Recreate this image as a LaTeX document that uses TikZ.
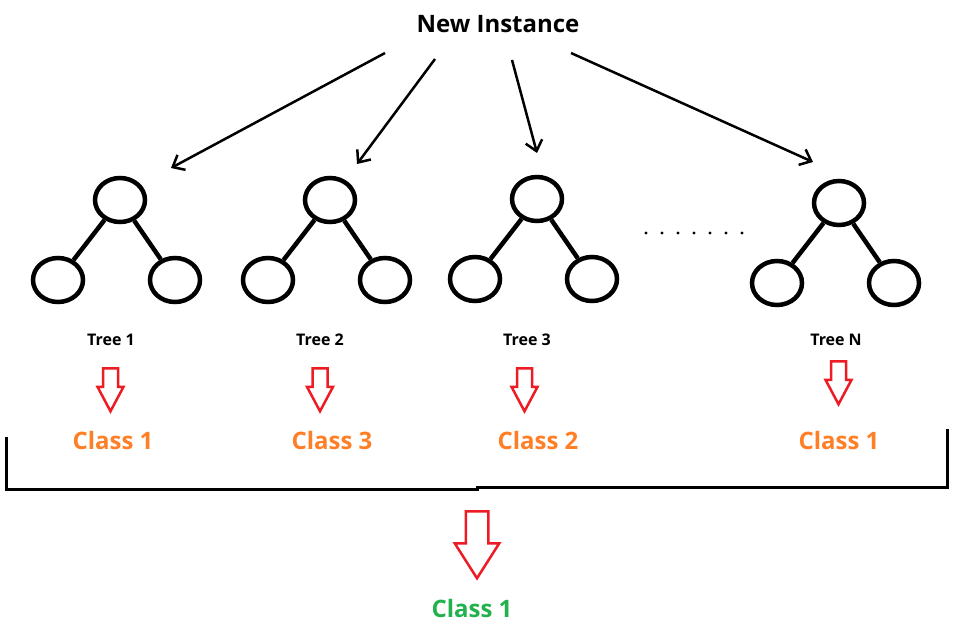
\documentclass[tikz,border=0pt]{standalone}
\usepackage{fontspec}
\setmainfont{Open Sans}
\usepackage{tikz}
\usetikzlibrary{arrows.meta, positioning, shapes, calc}

\definecolor{votered}{HTML}{ED1C24}
\definecolor{classorange}{HTML}{FF7F27}
\definecolor{classgreen}{HTML}{22B14C}

\begin{document}
\begin{tikzpicture}[x=1pt, y=-1pt, every node/.style={font=\bfseries},
    knot/.style={draw, ellipse, line width=4.5pt, minimum width=50pt, minimum height=44pt, inner sep=0pt},
    branch/.style={line width=4.5pt},
    pointer/.style={line width=2.5pt, -{Straight Barb[length=10pt, width=17pt]}},
    treelabel/.style={font=\bfseries\fontsize{16}{18}\selectfont},
    classlabel/.style={font=\bfseries\fontsize{24}{28}\selectfont, text=classorange},
    vote/.style={draw=votered, line width=2.5pt, single arrow, shape border rotate=270, anchor=tail,
        inner xsep=6.25pt, inner ysep=0pt, single arrow head extend=5.5pt, single arrow tip angle=56, minimum height=43pt}]
            \useasboundingbox (0,0) rectangle (965,629);

            % new instance
            \node (inst) at (498,24) [font=\bfseries\fontsize{24}{28}\selectfont] {New Instance};

            % trees
            \foreach \n/\x/\y in {1/120/200, 2/330/200, 3/537/199, N/839/203} {
                \node (r\n) [knot] at (\x,\y) {};
                \node (a\n) [knot] at ($(r\n)+(-62,80)$) {};
                \node (b\n) [knot] at ($(r\n)+(55,80)$) {};
                \draw[branch] (r\n) -- (a\n);
                \draw[branch] (r\n) -- (b\n);
            }

            % dots between tree 3 and tree N
            \foreach \d in {0,...,6}
                \fill (646+16*\d,233) circle (1.7);

            % arrows from the instance
            \foreach \n/\sx/\sy/\tx/\ty in {1/385/53/171/168, 2/435/59/357/164, 3/512/60/537/153, N/571/53/813/162} {
                \coordinate (s\n) at (\sx,\sy);
                \coordinate (t\n) at (\tx,\ty);
                \draw[pointer] (s\n) -- (t\n);
            }

            % votes
            \foreach \n/\lx/\vx/\vy/\cx/\c in {1/111/110.5/367/113/1, 2/320/320/367/332/3, 3/527/524.5/367/538/2, N/836/838.5/360/839/1} {
                \node (l\n) [treelabel] at (\lx,340) {Tree \n};
                \node (v\n) [vote] at (\vx,\vy) {};
                \node (c\n) [classlabel] at (\cx,440) {Class \c};
            }

            % bracket
            \draw[line width=3pt] (6,437) -- (6,489) -- (477,489) -- (477,487.5) -- (947,487.5) -- (947,429);

            % majority vote
            \node (vote) [vote, inner xsep=10pt, single arrow head extend=11pt, single arrow tip angle=65, minimum height=67pt] at (477,510) {};
            \node (result) [classlabel, text=classgreen] at (472,608) {Class 1};

        \end{tikzpicture}
\end{document}
